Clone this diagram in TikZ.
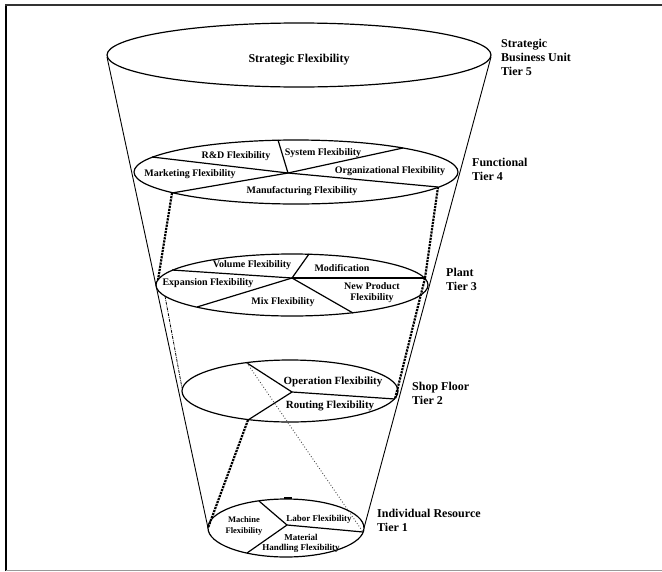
\documentclass[tikz,border=0pt]{standalone}
\usepackage{fontspec}
\setmainfont{Liberation Serif}
\begin{document}
\begin{tikzpicture}[x=1pt,y=-1pt,
  rim/.style={line width=1.2pt},
  cone/.style={line width=0.9pt},
  split/.style={line width=1.2pt},
  stitch/.style={line width=2.2pt, densely dotted},
  thinstitch/.style={line width=0.8pt, densely dash dot},
  trace/.style={line width=0.9pt, dotted, black!70},
  tierlbl/.style={font=\bfseries\fontsize{12}{14}\selectfont, align=left, anchor=west, inner sep=0pt},
  flex/.style={font=\bfseries\fontsize{10}{11}\selectfont, inner sep=0pt, align=center},
  flexbig/.style={flex, font=\bfseries\fontsize{11}{12}\selectfont},
  flexsmall/.style={flex, font=\bfseries\fontsize{9}{10}\selectfont},
]
\useasboundingbox (0,0) rectangle (662,571);

% frame
\draw[line width=1.6pt] (6,571) -- (6,5);
\draw[line width=1.4pt, black!80] (5.2,5) -- (662,5);
\draw[line width=1pt, black!40] (6,570) -- (662,570);

% cone outline
\coordinate (topL) at (107,57);
\coordinate (topR) at (491,57);
\coordinate (botL) at (208,528);
\coordinate (botR) at (364,528);
\draw[cone] (topL) -- (botL);
\draw[cone] (topR) -- (botR);

% tier discs
\draw[rim] (299,55) ellipse [x radius=192, y radius=32];
\draw[rim] (296,172) ellipse [x radius=162, y radius=32];
\draw[rim] (292,285) ellipse [x radius=136, y radius=31];
\draw[rim] (290,391) ellipse [x radius=108, y radius=31];
\draw[rim] (286,528) ellipse [x radius=78, y radius=29];
\draw[line width=1.8pt] (284,498) -- (292,498);

% tier 4 partitions
\coordinate (f-c) at (288,173);
\coordinate (f-t) at (278,140);
\coordinate (f-ul) at (152,157);
\coordinate (f-ur) at (403,148);
\coordinate (f-ll) at (172,193);
\coordinate (f-lr) at (438,187);
\draw[split] (f-ul) -- (f-c) -- (f-lr);
\draw[split] (f-ll) -- (f-c) -- (f-ur);
\draw[split] (f-c) -- (f-t);

% tier 3 partitions
\coordinate (p-c) at (292,278);
\coordinate (p-t) at (309,254);
\coordinate (p-ul) at (172,270);
\coordinate (p-r) at (425,278);
\coordinate (p-ll) at (197,307);
\coordinate (p-lr) at (353,313);
\coordinate (p-l) at (158,280);
\coordinate (p-bl) at (165,296);
\foreach \e in {p-t,p-ul,p-r,p-ll,p-lr} \draw[split] (p-c) -- (\e);

% tier 2 partitions
\coordinate (s-c) at (292,392);
\coordinate (s-tl) at (247,363);
\coordinate (s-r) at (395,399);
\coordinate (s-bl) at (248,420);
\coordinate (s-l) at (182,388);
\foreach \e in {s-tl,s-r,s-bl} \draw[split] (s-c) -- (\e);

% tier 1 partitions
\coordinate (r-c) at (287,525);
\coordinate (r-t) at (259,501);
\coordinate (r-r) at (363,532);
\coordinate (r-bl) at (247,553);
\foreach \e in {r-t,r-r,r-bl} \draw[split] (r-c) -- (\e);

% links between tiers
\draw[stitch] (f-ll) -- (p-l);
\draw[stitch] (f-lr) -- (p-r);
\draw[stitch] (p-r) -- (s-r);
\draw[thinstitch] (p-bl) -- (s-l);
\draw[stitch] (s-bl) -- (botL);
\draw[trace] (s-tl) -- (r-r);

% tier 5 text
\node[flex, font=\bfseries\fontsize{12}{13}\selectfont] (strat) at (299,60) {Strategic Flexibility};

% tier 4 text
\node[flex] (rd) at (236,156) {R\&D Flexibility};
\node[flex] (sys) at (323,153) {System Flexibility};
\node[flex] (mkt) at (190,174) {Marketing Flexibility};
\node[flex] (org) at (390,171) {Organizational Flexibility};
\node[flex] (mfg) at (302,191) {Manufacturing Flexibility};

% tier 3 text
\node[flex] (vol) at (252,265) {Volume Flexibility};
\node[flex] (mod) at (342,268) {Modification};
\node[flex] (exp) at (208,283) {Expansion Flexibility};
\node[flex] (mix) at (283,302) {Mix Flexibility};
\node[flex] (npd) at (372,293) {New Product\\Flexibility};

% tier 2 text
\node[flexbig] (opf) at (333,382) {Operation Flexibility};
\node[flexbig] (rtf) at (330,406) {Routing Flexibility};

% tier 1 text
\node[flex, font=\bfseries\fontsize{8.5}{11}\selectfont] (mach) at (244,526) {Machine\\Flexibility};
\node[flexsmall] (lab) at (319,519) {Labor Flexibility};
\node[flexsmall] (mhf) at (301,543) {Material\\Handling Flexibility};

% tier labels
\node[tierlbl] (l5) at (501,57) {Strategic\\Business Unit\\Tier 5};
\node[tierlbl] (l4) at (472,169) {Functional\\Tier 4};
\node[tierlbl] (l3) at (446,279) {Plant\\Tier 3};
\node[tierlbl] (l2) at (412,393) {Shop Floor\\Tier 2};
\node[tierlbl] (l1) at (377,520) {Individual Resource\\Tier 1};
\end{tikzpicture}
\end{document}
